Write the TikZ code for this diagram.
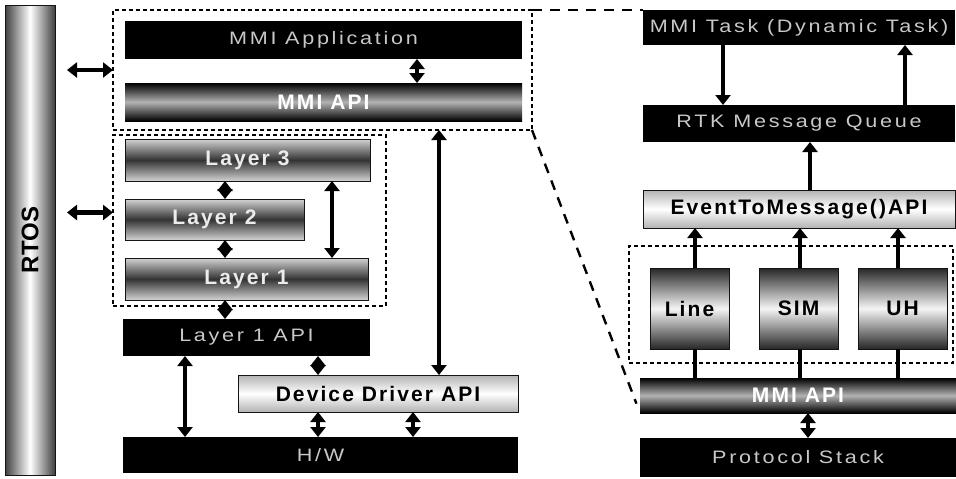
\documentclass[tikz,border=0pt]{standalone}
\usepackage{fontspec}
\setmainfont{Liberation Sans}
\newfontfamily\labfont{Liberation Sans}[LetterSpace=10]
\newfontfamily\widefont{Liberation Sans}[FakeStretch=1.2, LetterSpace=15]
\usetikzlibrary{arrows.meta}
\definecolor{pale}{RGB}{200, 200, 200}
\definecolor{edge}{RGB}{20, 20, 20}

\tikzset{
  box/.style={rectangle, inner sep=0, outer sep=0},
  blackbox/.style={box, fill=black, text=pale, font=\widefont\fontsize{9}{10}\selectfont},
  boldtext/.style={font=\labfont\bfseries\fontsize{10.5}{12}\selectfont},
  darkbar/.style={box, boldtext, draw=edge, line width=0.4pt, top color=gray!35, bottom color=gray!35, middle color=black!80, text=white!85!gray},
  litebar/.style={box, boldtext, draw=edge, line width=0.4pt, top color=gray!60, bottom color=gray!60, middle color=white, text=black},
  apibar/.style={box, boldtext, top color=black, bottom color=black, middle color=gray!60, text=white},
  tallbox/.style={box, boldtext, draw=edge, line width=0.4pt, top color=black!85, bottom color=black!85, middle color=white!92!gray, text=black},
  groupbox/.style={box, draw=black, line width=0.6pt, dash pattern=on 2pt off 1.5pt},
  zoomline/.style={line width=1.2pt, dash pattern=on 5pt off 4pt},
  dblarrow/.style={{Triangle[length=5pt, width=7.5pt]}-{Triangle[length=5pt, width=7.5pt]}, line width=2.2pt},
  sglarrow/.style={-{Triangle[length=5pt, width=7.5pt]}, line width=2.2pt},
  shaft/.style={line width=2.2pt}
}

\begin{document}
\begin{tikzpicture}[x=0.5pt, y=-0.5pt]
  \useasboundingbox (0, 0) rectangle (956, 478);

  % OS column
  \node[box, draw=edge, line width=0.4pt, left color=black!75, right color=black!75, middle color=white, minimum width=25pt, minimum height=235pt] (rtos) at (30, 240) {};
  \node[rotate=90, font=\bfseries\fontsize{12}{14}\selectfont] (rtoslabel) at (rtos.center) {RTOS};

  % left stack
  \node[groupbox, minimum width=209.5pt, minimum height=60pt] (topdash) at (322.5, 70) {};
  \node[blackbox, minimum width=198.5pt, minimum height=19pt] (app) at (323.5, 40) {MMI Application};
  \node[apibar, minimum width=198.5pt, minimum height=19pt] (mmiapi) at (323.5, 102) {MMI API};

  \node[groupbox, minimum width=136.5pt, minimum height=85.5pt] (layerdash) at (249.5, 220.5) {};
  \node[darkbar, minimum width=122.5pt, minimum height=21pt] (layer3) at (247.5, 160) {Layer 3};
  \node[darkbar, minimum width=89.5pt, minimum height=20.5pt] (layer2) at (214.5, 219.5) {Layer 2};
  \node[darkbar, minimum width=121.5pt, minimum height=21pt] (layer1) at (246.5, 279) {Layer 1};

  \node[blackbox, minimum width=123.5pt, minimum height=18.5pt] (l1api) at (246.5, 337.5) {Layer 1 API};
  \node[litebar, minimum width=140pt, minimum height=18.5pt] (dda) at (378, 393.5) {Device Driver API};
  \node[blackbox, minimum width=197.5pt, minimum height=18pt] (hw) at (320.5, 455) {H/W};

  \coordinate (lyin) at ([yshift=4pt]layerdash.west);
  \draw[dblarrow, shorten <=6pt] (rtos.east |- topdash.west) -- (topdash.west);
  \draw[dblarrow, shorten <=6pt] (rtos.east |- lyin) -- (lyin);

  \foreach \a/\b/\xx in {app/mmiapi/417, layer3/layer2/225, layer2/layer1/225, layer3/layer1/332, layer1/l1api/225, topdash/dda/439, l1api/dda/318, l1api/hw/185, dda/hw/318, dda/hw/413} {
    \draw[dblarrow] (\a.south -| \xx,0) -- (\b.north -| \xx,0);
  }

  % right stack
  \node[blackbox, minimum width=156pt, minimum height=17.5pt] (task) at (799, 27.5) {MMI Task (Dynamic Task)};
  \node[blackbox, minimum width=156pt, minimum height=18.5pt] (queue) at (799, 123.5) {RTK Message Queue};
  \node[litebar, minimum width=156pt, minimum height=19pt] (etm) at (799, 209) {EventToMessage()API};

  \node[groupbox, minimum width=162pt, minimum height=58.5pt] (rdash) at (791, 304.5) {};
  \node[tallbox, minimum width=39.5pt, minimum height=40.5pt] (line) at (689.5, 308.5) {Line};
  \node[tallbox, minimum width=39.5pt, minimum height=40.5pt] (sim) at (798.5, 308.5) {SIM};
  \node[tallbox, minimum width=44.5pt, minimum height=40.5pt] (uh) at (902.5, 308.5) {UH};

  \node[apibar, minimum width=158pt, minimum height=17.5pt] (rapi) at (798, 395.5) {MMI API};
  \node[blackbox, minimum width=158pt, minimum height=19.5pt] (stack) at (798, 457.5) {Protocol Stack};

  \draw[sglarrow] (task.south -| 723,0) -- (queue.north -| 723,0);
  \draw[sglarrow] (queue.north -| 905,0) -- (task.south -| 905,0);
  \draw[sglarrow] (etm.north -| 810,0) -- (queue.south -| 810,0);
  \foreach \n/\xx in {line/695, sim/800, uh/898} {
    \draw[shaft] (rapi.north -| \xx,0) -- (\n.south -| \xx,0);
    \draw[sglarrow] (\n.north -| \xx,0) -- (etm.south -| \xx,0);
  }
  \draw[dblarrow] (rapi.south -| 808,0) -- (stack.north -| 808,0);

  % zoom lines
  \draw[zoomline] (topdash.north east) -- (task.north west);
  \draw[zoomline, shorten >=5pt] (topdash.south east) -- (rapi.south west);
\end{tikzpicture}
\end{document}
